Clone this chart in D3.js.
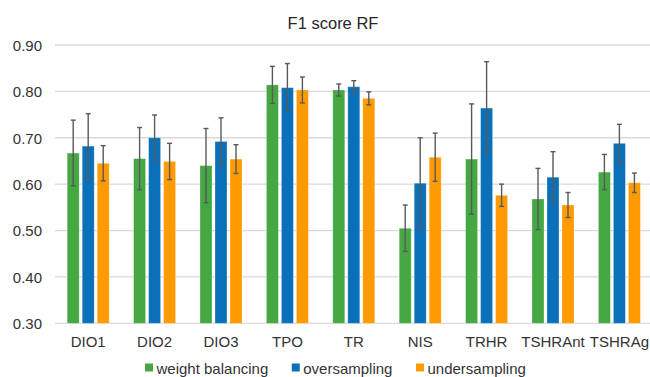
<!DOCTYPE html>
<html>
<head>
<meta charset="utf-8">
<script src="https://cdn.jsdelivr.net/npm/d3@7"></script>
<style>
  html, body { margin: 0; padding: 0; background: #fff; }
  svg { display: block; font-family: "Liberation Sans", Arial, sans-serif; }
</style>
</head>
<body>
<svg id="chart" width="650" height="377"></svg>
<script>
const categories = ["DIO1", "DIO2", "DIO3", "TPO", "TR", "NIS", "TRHR", "TSHRAnt", "TSHRAg"];
const seriesNames = ["weight balancing", "oversampling", "undersampling"];
const weightBalancing = [0.667, 0.655, 0.640, 0.814, 0.803, 0.505, 0.654, 0.568, 0.626];
const weightBalancingErr = [0.071, 0.067, 0.080, 0.040, 0.013, 0.050, 0.119, 0.066, 0.038];
const oversampling = [0.682, 0.700, 0.692, 0.808, 0.810, 0.602, 0.764, 0.615, 0.688];
const oversamplingErr = [0.070, 0.049, 0.051, 0.052, 0.013, 0.098, 0.100, 0.055, 0.041];
const undersampling = [0.645, 0.649, 0.654, 0.803, 0.785, 0.658, 0.576, 0.555, 0.603];
const undersamplingErr = [0.038, 0.039, 0.031, 0.028, 0.014, 0.052, 0.024, 0.027, 0.021];
const yTicks = [0.30, 0.40, 0.50, 0.60, 0.70, 0.80, 0.90];
const colors = ["#45a843", "#0a70b9", "#ff9b00"];
const title = "F1 score RF";

const seriesVals = [weightBalancing, oversampling, undersampling];
const seriesErrs = [weightBalancingErr, oversamplingErr, undersamplingErr];

const svg = d3.select("#chart");
const plotLeft = 55, plotRight = 652.6, plotTop = 45, plotBottom = 323.3;

const x0 = d3.scaleBand().domain(categories).range([plotLeft, plotRight]).padding(0);
const x1 = d3.scaleBand().domain(seriesNames).range([-21, 21]).paddingInner(0.2).paddingOuter(0);
const y = d3.scaleLinear().domain([0.3, 0.9]).range([plotBottom, plotTop]);
const color = d3.scaleOrdinal().domain(seriesNames).range(colors);

// title
svg.append("text")
  .attr("x", 333).attr("y", 29)
  .attr("text-anchor", "middle")
  .attr("font-size", 16.5)
  .attr("fill", "#262626")
  .text(title);

// gridlines
svg.append("g").selectAll("line").data(yTicks).join("line")
  .attr("x1", plotLeft).attr("x2", 650)
  .attr("y1", d => y(d)).attr("y2", d => y(d))
  .attr("stroke", "#d9d9d9").attr("stroke-width", 1.3);

// y axis labels
const yAxis = d3.axisLeft(y).tickValues(yTicks).tickFormat(d3.format(".2f")).tickSize(0).tickPadding(0);
const yg = svg.append("g").attr("transform", `translate(42,0)`).call(yAxis);
yg.select(".domain").remove();
yg.selectAll("text").attr("font-size", 15).attr("fill", "#333").attr("font-family", "Liberation Sans, Arial, sans-serif").attr("dy", "0.36em");

// x axis labels
const xAxis = d3.axisBottom(x0).tickSize(0).tickPadding(0);
const xg = svg.append("g").attr("transform", `translate(0,${plotBottom})`).call(xAxis);
xg.select(".domain").remove();
xg.selectAll("text").attr("font-size", 15).attr("fill", "#333").attr("font-family", "Liberation Sans, Arial, sans-serif").attr("dy", null).attr("y", 23.4);

// data rows
const rows = [];
categories.forEach((c, i) => {
  seriesNames.forEach((s, j) => {
    rows.push({cat: c, series: s, value: seriesVals[j][i], err: seriesErrs[j][i]});
  });
});

const bw = x1.bandwidth();
const bars = svg.append("g");
bars.selectAll("rect").data(rows).join("rect")
  .attr("x", d => x0(d.cat) + x0.bandwidth() / 2 + x1(d.series))
  .attr("y", d => y(d.value))
  .attr("width", bw)
  .attr("height", d => y(0.3) - y(d.value))
  .attr("fill", d => color(d.series))
  .attr("stroke", "#ffffff").attr("stroke-opacity", 0.35).attr("stroke-width", 0.8);

// error bars
const eg = svg.append("g").attr("stroke", "#595959").attr("stroke-width", 1.4);
rows.forEach(d => {
  const cx = x0(d.cat) + x0.bandwidth() / 2 + x1(d.series) + bw / 2;
  const yt = y(d.value + d.err), yb = y(d.value - d.err);
  eg.append("line").attr("x1", cx).attr("x2", cx).attr("y1", yt).attr("y2", yb);
  eg.append("line").attr("x1", cx - 2.5).attr("x2", cx + 2.5).attr("y1", yt).attr("y2", yt);
  eg.append("line").attr("x1", cx - 2.5).attr("x2", cx + 2.5).attr("y1", yb).attr("y2", yb);
});

// legend
const legend = svg.append("g");
let lx = 145;
seriesNames.forEach((s, j) => {
  const g = legend.append("g");
  g.append("rect").attr("x", lx).attr("y", 363.5).attr("width", 8).attr("height", 8).attr("fill", color(s));
  const t = g.append("text").attr("x", lx + 11.5).attr("y", 373.5)
    .attr("font-size", 15).attr("fill", "#333").text(s);
  lx = lx + 11.5 + t.node().getComputedTextLength() + 23.5;
});
</script>
</body>
</html>
